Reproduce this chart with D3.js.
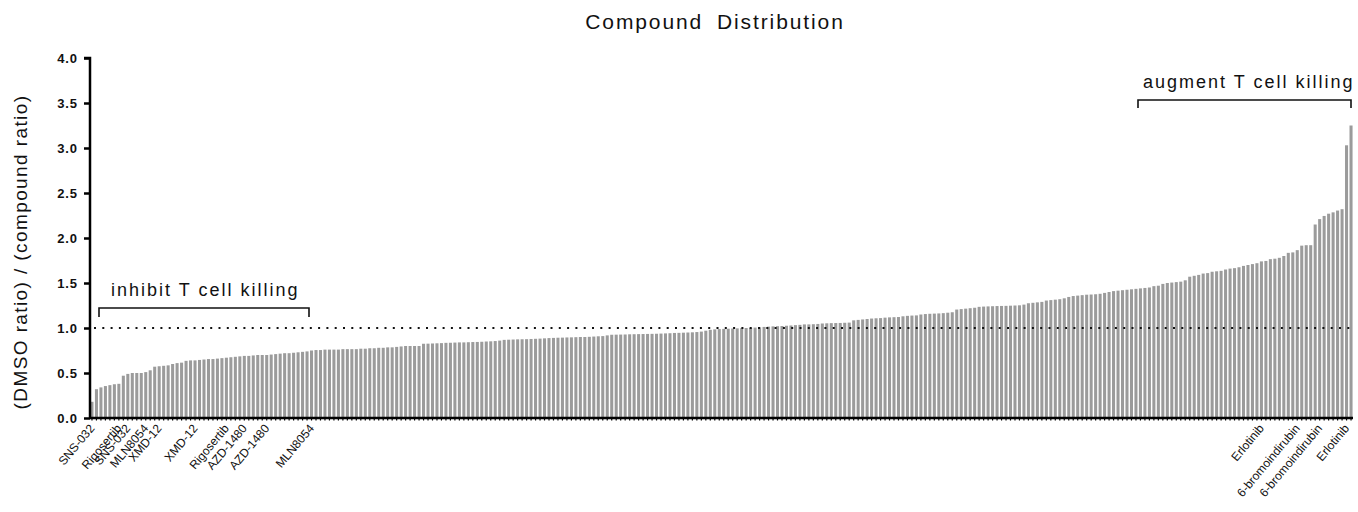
<!DOCTYPE html>
<html>
<head>
<meta charset="utf-8">
<script src="https://cdn.jsdelivr.net/npm/d3@7"></script>
<style>
  body { margin: 0; background: #fff; }
  text { font-family: "Liberation Sans", Arial, sans-serif; }
</style>
</head>
<body>
<div id="chart"></div>
<script>
// sorted compound ratios
const values = [
  0.18, 0.32, 0.34, 0.355, 0.365, 0.375, 0.38, 0.47, 0.49, 0.50,
  0.50, 0.50, 0.51, 0.53, 0.57, 0.575, 0.58, 0.585, 0.60, 0.61,
  0.615, 0.635, 0.64, 0.64, 0.645, 0.65, 0.655, 0.655, 0.66, 0.665,
  0.67, 0.675, 0.68, 0.685, 0.69, 0.69, 0.695, 0.70, 0.70, 0.70,
  0.705, 0.71, 0.715, 0.72, 0.72, 0.725, 0.73, 0.735, 0.74, 0.75,
  0.755, 0.755, 0.76, 0.76, 0.76, 0.76, 0.765, 0.765, 0.765, 0.765,
  0.77, 0.77, 0.775, 0.775, 0.78, 0.78, 0.785, 0.785, 0.79, 0.795,
  0.80, 0.80, 0.80, 0.80, 0.825, 0.826, 0.828, 0.83, 0.832, 0.835,
  0.836, 0.838, 0.84, 0.84, 0.842, 0.844, 0.845, 0.847, 0.85, 0.852,
  0.855, 0.86, 0.868, 0.87, 0.872, 0.874, 0.875, 0.876, 0.878, 0.88,
  0.882, 0.885, 0.888, 0.89, 0.892, 0.893, 0.895, 0.896, 0.898, 0.90,
  0.90, 0.902, 0.905, 0.908, 0.91, 0.918, 0.925, 0.926, 0.927, 0.928,
  0.93, 0.931, 0.932, 0.933, 0.934, 0.935, 0.936, 0.938, 0.94, 0.942,
  0.945, 0.946, 0.948, 0.95, 0.952, 0.955, 0.96, 0.97, 0.98, 0.985,
  0.988, 0.99, 0.992, 0.994, 0.996, 0.998, 1.0, 1.002, 1.005, 1.008,
  1.012, 1.015, 1.018, 1.02, 1.022, 1.025, 1.028, 1.032, 1.035, 1.04,
  1.04, 1.042, 1.045, 1.05, 1.052, 1.054, 1.055, 1.056, 1.058, 1.06,
  1.085, 1.09, 1.095, 1.10, 1.105, 1.108, 1.11, 1.115, 1.118, 1.12,
  1.122, 1.13, 1.135, 1.138, 1.14, 1.15, 1.155, 1.158, 1.16, 1.162,
  1.165, 1.17, 1.175, 1.205, 1.21, 1.215, 1.22, 1.225, 1.235, 1.238,
  1.24, 1.242, 1.244, 1.245, 1.246, 1.248, 1.25, 1.252, 1.26, 1.275,
  1.28, 1.285, 1.29, 1.305, 1.31, 1.315, 1.32, 1.33, 1.345, 1.355,
  1.36, 1.365, 1.37, 1.372, 1.375, 1.38, 1.39, 1.40, 1.41, 1.415,
  1.42, 1.425, 1.43, 1.435, 1.44, 1.445, 1.45, 1.465, 1.47, 1.49,
  1.50, 1.505, 1.51, 1.515, 1.53, 1.57, 1.58, 1.59, 1.605, 1.61,
  1.625, 1.63, 1.635, 1.65, 1.66, 1.665, 1.675, 1.69, 1.70, 1.71,
  1.72, 1.74, 1.745, 1.765, 1.77, 1.78, 1.80, 1.835, 1.84, 1.865,
  1.915, 1.92, 1.92, 2.15, 2.21, 2.245, 2.27, 2.285, 2.305, 2.32,
  3.03, 3.25
];

// named compounds and the bar they sit under
const labelNames = ["SNS-032", "Rigosertib", "SNS-032", "MLN8054", "XMD-12", "XMD-12",
  "Rigosertib", "AZD-1480", "AZD-1480", "MLN8054",
  "Erlotinib", "6-bromoindirubin", "6-bromoindirubin", "Erlotinib"];
const labelIndex = [0, 6, 8, 12, 15, 23, 30, 34, 39, 49, 261, 269, 274, 280];

const yTicks = [0, 0.5, 1.0, 1.5, 2.0, 2.5, 3.0, 3.5, 4.0];
const refLine = 1.0;

const width = 1358, height = 512;
const x0 = 90, x1 = 1353, yBase = 418, yTop = 58;

const svg = d3.select("#chart")
    .append("svg")
    .attr("width", width)
    .attr("height", height);

const x = d3.scaleBand()
    .domain(d3.range(values.length))
    .range([x0, x1])
    .paddingInner(0.32)
    .paddingOuter(0.1);

const y = d3.scaleLinear()
    .domain([0, 4])
    .range([yBase, yTop]);

// bars
svg.append("g")
    .selectAll("rect")
    .data(values)
    .enter()
    .append("rect")
    .attr("x", (d, i) => x(i))
    .attr("y", d => y(d))
    .attr("width", x.bandwidth())
    .attr("height", d => yBase - y(d))
    .attr("fill", "#9b9b9b");

// dotted reference line at 1.0
svg.append("line")
    .attr("x1", x0 + 4)
    .attr("x2", x1 - 2)
    .attr("y1", y(refLine))
    .attr("y2", y(refLine))
    .attr("stroke", "#111")
    .attr("stroke-width", 2)
    .attr("stroke-dasharray", "2,6.3");

// y axis
const yAxis = svg.append("g")
    .attr("transform", `translate(${x0},0)`)
    .call(d3.axisLeft(y).tickValues(yTicks).tickFormat(d3.format(".1f")).tickSize(6).tickPadding(6));
yAxis.select(".domain").attr("stroke-width", 2.5).attr("d", `M-6,${yTop}H0V${yBase}`);
yAxis.selectAll(".tick line").attr("stroke-width", 2.5);
yAxis.selectAll(".tick text")
    .attr("font-size", 13)
    .attr("font-weight", "bold")
    .attr("letter-spacing", "0.9px")
    .attr("fill", "#111");

// x axis: a tick under every bar
const xAxis = svg.append("g")
    .attr("transform", `translate(0,${yBase})`)
    .call(d3.axisBottom(x).tickSize(2.5).tickFormat(""));
xAxis.select(".domain").attr("stroke-width", 2.5).attr("d", `M${x0},0H${x1}`);
xAxis.selectAll(".tick line").attr("stroke-width", 1.2);

// compound names
svg.append("g")
    .selectAll("text")
    .data(labelIndex)
    .enter()
    .append("text")
    .attr("transform", d => `translate(${x(d) + x.bandwidth() / 2},${yBase + 8}) rotate(-50)`)
    .attr("text-anchor", "end")
    .attr("dy", "0.35em")
    .attr("font-size", 12)
    .attr("fill", "#111")
    .text((d, i) => labelNames[i]);

// title and y label
svg.append("text")
    .attr("x", 715)
    .attr("y", 29)
    .attr("text-anchor", "middle")
    .attr("font-family", "Noto Sans")
    .attr("font-size", 21)
    .attr("letter-spacing", "1.9px")
    .attr("word-spacing", "6px")
    .attr("fill", "#111")
    .text("Compound Distribution");

svg.append("text")
    .attr("transform", `translate(27,252) rotate(-90)`)
    .attr("text-anchor", "middle")
    .attr("font-family", "Noto Sans")
    .attr("font-size", 19)
    .attr("letter-spacing", "1.4px")
    .attr("fill", "#111")
    .text("(DMSO ratio) / (compound ratio)");

// brackets with annotations
function bracket(xa, xb, yb, drop, label, tx, ty) {
    svg.append("path")
        .attr("d", `M${xa},${yb + drop}V${yb}H${xb}V${yb + drop}`)
        .attr("fill", "none")
        .attr("stroke", "#111")
        .attr("stroke-width", 1.6);
    svg.append("text")
        .attr("x", tx)
        .attr("y", ty)
        .attr("font-family", "Noto Sans")
        .attr("font-size", 18)
        .attr("letter-spacing", "2px")
        .attr("fill", "#111")
        .text(label);
}
bracket(99, 309, 308, 9, "inhibit T cell killing", 111, 296);
bracket(1138, 1351, 100, 8, "augment T cell killing", 1143, 88);
</script>
</body>
</html>
